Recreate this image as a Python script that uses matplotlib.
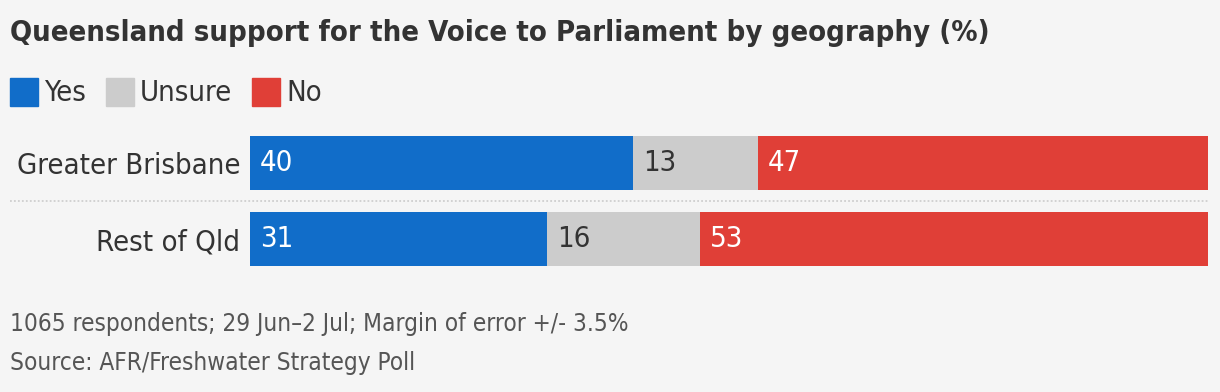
import matplotlib
matplotlib.use("Agg")
import matplotlib.pyplot as plt
import matplotlib.transforms as mtransforms
from matplotlib.patches import Rectangle

regions = ["Greater Brisbane", "Rest of Qld"]
responses = ["Yes", "Unsure", "No"]
yes = [40, 31]
unsure = [13, 16]
no = [47, 53]

colors = {"Yes": "#116dc9", "Unsure": "#cccccc", "No": "#e03f37"}
label_colors = {"Yes": "white", "Unsure": "#333333", "No": "white"}
bg = "#f5f5f5"
font = "DejaVu Sans"
stretch = "condensed"

W, H = 1220, 392
fig = plt.figure(figsize=(W / 100, H / 100), dpi=100, facecolor=bg)

# axes placed in pixel terms
left, right, top, bottom = 250, 1208, 136, 266
ax = fig.add_axes([left / W, 1 - bottom / H, (right - left) / W, (bottom - top) / H])
ax.set_facecolor(bg)

ypos = list(range(len(regions)))
h = 0.71
starts = [0] * len(regions)
for name, vals in zip(responses, [yes, unsure, no]):
    ax.barh(ypos, vals, left=starts, height=h, color=colors[name], linewidth=0)
    for y, s, v in zip(ypos, starts, vals):
        ax.annotate(str(v), (s, y), xytext=(7, 0), textcoords="offset points",
                    va="center", ha="left", fontsize=21, color=label_colors[name],
                    family=font, fontstretch=stretch)
    starts = [s + v for s, v in zip(starts, vals)]

ax.set_xlim(0, 100)
ax.set_ylim(len(regions) - 1 + h / 2, -h / 2)
ax.set_yticks(ypos)
ax.set_yticklabels(regions, fontsize=21, color="#333333", family=font, fontstretch=stretch)
ax.tick_params(axis="y", length=0, pad=7)
ax.set_xticks([])
for sp in ax.spines.values():
    sp.set_visible(False)

# dotted separator between rows
trans = mtransforms.blended_transform_factory(fig.transFigure, ax.transData)
for i in range(len(regions) - 1):
    ax.plot([10 / W, right / W], [i + 0.5, i + 0.5], transform=trans, clip_on=False,
            color="#cfcfcf", linestyle=(0, (1, 1.2)), linewidth=1.3)

fig.text(10 / W, 1 - 33 / H, "Queensland support for the Voice to Parliament by geography (%)",
         fontsize=21, fontweight="bold", color="#333333", va="center", ha="left",
         family=font, fontstretch=stretch)

# legend
x = 10
for name in responses:
    fig.patches.append(Rectangle((x / W, 1 - 106 / H), 28 / W, 28 / H,
                                 transform=fig.transFigure, color=colors[name]))
    t = fig.text((x + 34) / W, 1 - 93 / H, name, fontsize=21, color="#333333",
                 va="center", ha="left", family=font, fontstretch=stretch)
    fig.canvas.draw()
    bb = t.get_window_extent()
    x = bb.x1 + 20

fig.text(10 / W, 1 - 324 / H, "1065 respondents; 29 Jun\u20132 Jul; Margin of error +/- 3.5%",
         fontsize=17.5, color="#555555", va="center", ha="left", family=font, fontstretch=stretch)
fig.text(10 / W, 1 - 363 / H, "Source: AFR/Freshwater Strategy Poll",
         fontsize=17.5, color="#555555", va="center", ha="left", family=font, fontstretch=stretch)

fig.savefig("out.png", dpi=100, facecolor=bg)
